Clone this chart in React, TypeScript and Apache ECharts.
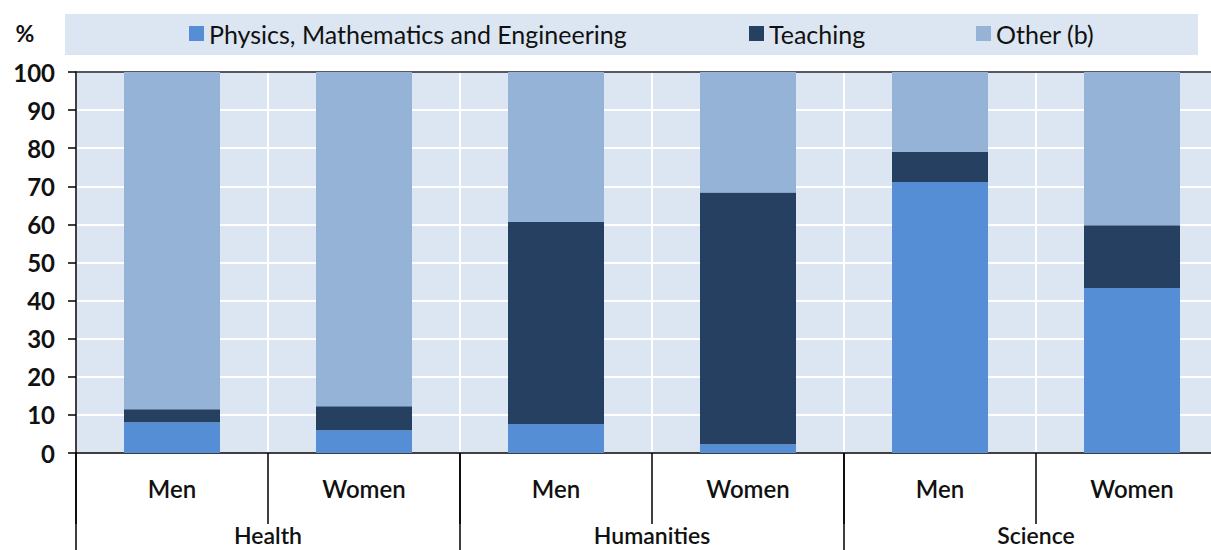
import React, { useEffect, useRef } from "react";
import * as echarts from "echarts";

const subCategories = ["Men", "Women", "Men", "Women", "Men", "Women"];
const groups = ["Health", "Humanities", "Science"];
const physics = [8.1, 6.0, 7.6, 2.3, 71.1, 43.3];
const teaching = [3.4, 6.3, 53.0, 66.1, 7.9, 16.5];
const other = [88.5, 87.7, 39.4, 31.6, 21.0, 40.2];
const yTicks = [0, 100, 10];

const FONT = "Lato";

export default function App() {
  const ref = useRef<HTMLDivElement>(null);
  useEffect(() => {
    if (!ref.current) return;
    const chart = echarts.init(ref.current, undefined, { renderer: "svg" });
    const legendBase = {
      top: 16,
      itemWidth: 15,
      itemHeight: 15,
      icon: "rect",
      itemGap: 5,
      textStyle: { fontFamily: FONT, fontSize: 25, color: "#111" },
      selectedMode: false,
    };
    chart.setOption({
      animation: false,
      backgroundColor: "#fff",
      graphic: [
        {
          type: "rect",
          left: 65,
          top: 14,
          shape: { width: 1133, height: 41 },
          style: { fill: "#DCE6F2" },
          z: -10,
        },
      ],
      legend: [
        { ...legendBase, left: 184, data: ["Physics, Mathematics and Engineering"] },
        { ...legendBase, left: 744, data: ["Teaching"] },
        { ...legendBase, left: 971, data: ["Other (b)"] },
      ],
      grid: {
        left: 76,
        top: 72,
        right: 0,
        height: 381,
        show: true,
        backgroundColor: "#DCE6F2",
        borderWidth: 0,
      },
      xAxis: [
        {
          type: "category",
          data: subCategories,
          position: "bottom",
          axisLine: { show: true, lineStyle: { color: "#000", width: 1.5 } },
          axisTick: { show: true, interval: 0, length: 71, lineStyle: { color: "#000", width: 1.5 } },
          axisLabel: { interval: 0, margin: 23, fontFamily: FONT, fontSize: 24, fontWeight: 600, color: "#111" },
          splitLine: { show: true, interval: 0, lineStyle: { color: "#fff", width: 2 } },
        },
        {
          type: "category",
          data: groups,
          position: "bottom",
          axisLine: { show: false },
          axisTick: { show: true, interval: 0, length: 97, lineStyle: { color: "#000", width: 1.5 } },
          axisLabel: { interval: 0, margin: 70, fontFamily: FONT, fontSize: 23, fontWeight: 600, color: "#111" },
          splitLine: { show: false },
        },
        {
          type: "category",
          data: subCategories,
          position: "top",
          axisLine: { show: true, lineStyle: { color: "#222", width: 1.5 } },
          axisTick: { show: false },
          axisLabel: { show: false },
          splitLine: { show: false },
        },
      ],
      yAxis: {
        type: "value",
        min: yTicks[0],
        max: yTicks[1],
        interval: yTicks[2],
        name: "%",
        nameLocation: "end",
        nameGap: 28,
        nameTextStyle: {
          fontFamily: FONT,
          fontSize: 23,
          fontWeight: "bold",
          color: "#111",
          align: "center",
          padding: [0, 0, 0, -102],
        },
        axisLine: { show: true, lineStyle: { color: "#000", width: 1.5 } },
        axisTick: { show: true, inside: false, length: 8, lineStyle: { color: "#000", width: 1.5 } },
        axisLabel: { margin: 21, fontFamily: FONT, fontSize: 24, fontWeight: "bold", color: "#111" },
        splitLine: { show: true, lineStyle: { color: "#fff", width: 2 } },
      },
      series: [
        {
          name: "Physics, Mathematics and Engineering",
          type: "bar",
          stack: "total",
          xAxisIndex: 0,
          data: physics,
          barWidth: "50%",
          itemStyle: { color: "#558ED5" },
        },
        {
          name: "Teaching",
          type: "bar",
          stack: "total",
          xAxisIndex: 0,
          data: teaching,
          barWidth: "50%",
          itemStyle: { color: "#254061" },
        },
        {
          name: "Other (b)",
          type: "bar",
          stack: "total",
          xAxisIndex: 0,
          data: other,
          barWidth: "50%",
          itemStyle: { color: "#95B3D7" },
        },
      ],
    });
    return () => chart.dispose();
  }, []);
  return (
    <div
      ref={ref}
      style={{ position: "fixed", left: 0, top: 0, width: 1228, height: 550 }}
    />
  );
}
